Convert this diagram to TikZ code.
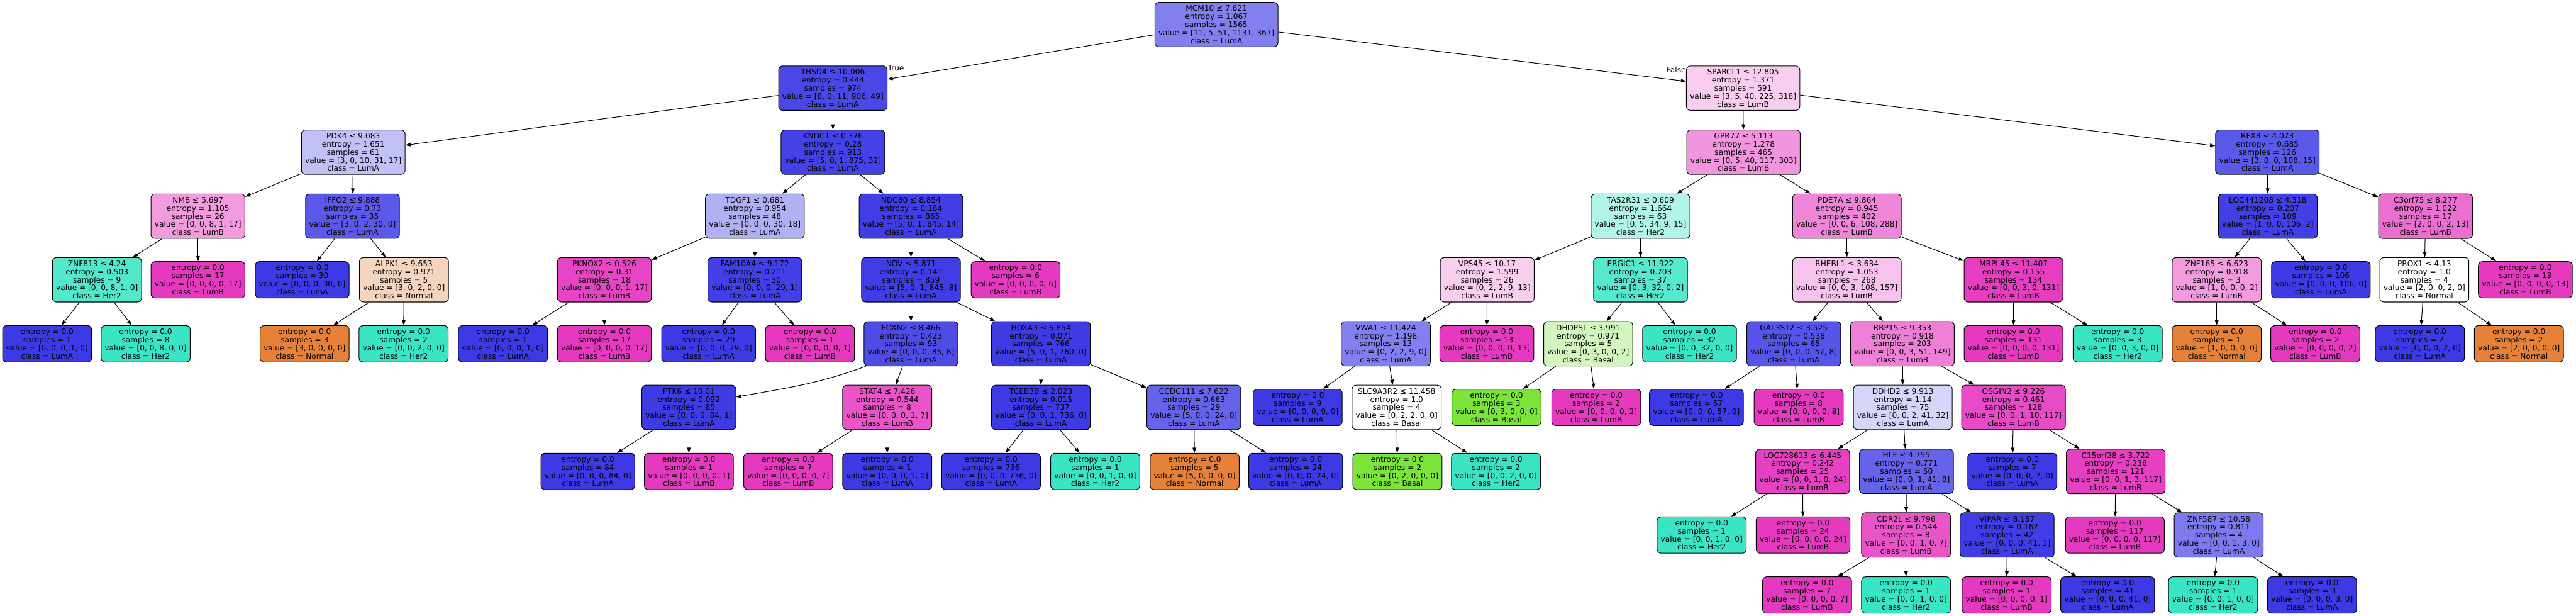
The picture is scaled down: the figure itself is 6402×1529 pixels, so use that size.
\documentclass[tikz,border=0pt]{standalone}
\usepackage{fontspec}
\setmainfont{DejaVu Sans}
\usepackage{tikz}
\usetikzlibrary{arrows.meta}

\definecolor{Normal}{HTML}{E58139}
\definecolor{Basal}{HTML}{7BE539}
\definecolor{Her2}{HTML}{39E5C5}
\definecolor{LumA}{HTML}{3C39E5}
\definecolor{LumB}{HTML}{E539C0}

\begin{document}
\begin{tikzpicture}[x=0.01cm, y=-0.01cm,
    tnode/.style={draw, line width=0.45pt, rounded corners=0.1cm, align=center,
      inner xsep=0.09cm, inner ysep=0.08cm, font=\fontsize{5.4pt}{5.69pt}\selectfont},
    edge/.style={line width=0.45pt, -{Triangle[length=0.13cm, width=0.09cm]}},
    lbl/.style={inner sep=0pt, font=\fontsize{5.4pt}{5.69pt}\selectfont}]
\useasboundingbox (0,0) rectangle (6402,1529);

% depth 0
\node[tnode, fill=LumA!64!white] (mcm) at (3023,61) {MCM10 ≤ 7.621\\entropy = 1.067\\samples = 1565\\value = [11, 5, 51, 1131, 367]\\class = LumA};

% depth 1
\node[tnode, fill=LumA!93!white] (thsd) at (2070,219) {THSD4 ≤ 10.006\\entropy = 0.444\\samples = 974\\value = [8, 0, 11, 906, 49]\\class = LumA};
\node[tnode, fill=LumB!25!white] (sparcl) at (4332,219) {SPARCL1 ≤ 12.805\\entropy = 1.371\\samples = 591\\value = [3, 5, 40, 225, 318]\\class = LumB};
\node[lbl, anchor=west] (ltrue) at ([yshift=-0.06cm]thsd.north east) {True};
\node[lbl, anchor=east] (lfalse) at ([yshift=-0.1cm]sparcl.north west) {False};

% depth 2
\node[tnode, fill=LumA!32!white] (pdk) at (878,378) {PDK4 ≤ 9.083\\entropy = 1.651\\samples = 61\\value = [3, 0, 10, 31, 17]\\class = LumA};
\node[tnode, fill=LumA!96!white] (kndc) at (2070,378) {KNDC1 ≤ 0.376\\entropy = 0.28\\samples = 913\\value = [5, 0, 1, 875, 32]\\class = LumA};
\node[tnode, fill=LumB!53!white] (gpr) at (4333,378) {GPR77 ≤ 5.113\\entropy = 1.278\\samples = 465\\value = [0, 5, 40, 117, 303]\\class = LumB};
\node[tnode, fill=LumA!84!white] (rfx) at (5635,378) {RFX8 ≤ 4.073\\entropy = 0.685\\samples = 126\\value = [3, 0, 0, 108, 15]\\class = LumA};

% depth 3
\node[tnode, fill=LumB!50!white] (nmb) at (492,537) {NMB ≤ 5.697\\entropy = 1.105\\samples = 26\\value = [0, 0, 8, 1, 17]\\class = LumB};
\node[tnode, fill=LumA!84!white] (iffo) at (876,537) {IFFO2 ≤ 9.888\\entropy = 0.73\\samples = 35\\value = [3, 0, 2, 30, 0]\\class = LumA};
\node[tnode, fill=LumA!40!white] (tdgf) at (1876,537) {TDGF1 ≤ 0.681\\entropy = 0.954\\samples = 48\\value = [0, 0, 0, 30, 18]\\class = LumA};
\node[tnode, fill=LumA!98!white] (ndc) at (2264,537) {NDC80 ≤ 8.854\\entropy = 0.184\\samples = 865\\value = [5, 0, 1, 845, 14]\\class = LumA};
\node[tnode, fill=Her2!40!white] (tas) at (4077,537) {TAS2R31 ≤ 0.609\\entropy = 1.664\\samples = 63\\value = [0, 5, 34, 9, 15]\\class = Her2};
\node[tnode, fill=LumB!61!white] (pde) at (4590,537) {PDE7A ≤ 9.864\\entropy = 0.945\\samples = 402\\value = [0, 0, 6, 108, 288]\\class = LumB};
\node[tnode, fill=LumA!97!white] (loca) at (5636,537) {LOC441208 ≤ 4.318\\entropy = 0.207\\samples = 109\\value = [1, 0, 0, 106, 2]\\class = LumA};
\node[tnode, fill=LumB!73!white] (c3orf) at (6028,537) {C3orf75 ≤ 8.277\\entropy = 1.022\\samples = 17\\value = [2, 0, 0, 2, 13]\\class = LumB};

% depth 4
\node[tnode, fill=Her2!88!white] (znfa) at (241,695) {ZNF813 ≤ 4.24\\entropy = 0.503\\samples = 9\\value = [0, 0, 8, 1, 0]\\class = Her2};
\node[tnode, fill=LumB] (lf01) at (492,695) {entropy = 0.0\\samples = 17\\value = [0, 0, 0, 0, 17]\\class = LumB};
\node[tnode, fill=LumA] (lf02) at (751,695) {entropy = 0.0\\samples = 30\\value = [0, 0, 0, 30, 0]\\class = LumA};
\node[tnode, fill=Normal!33!white] (alpk) at (1004,695) {ALPK1 ≤ 9.653\\entropy = 0.971\\samples = 5\\value = [3, 0, 2, 0, 0]\\class = Normal};
\node[tnode, fill=LumB!94!white] (pknox) at (1502,695) {PKNOX2 ≤ 0.526\\entropy = 0.31\\samples = 18\\value = [0, 0, 0, 1, 17]\\class = LumB};
\node[tnode, fill=LumA!97!white] (fam) at (1876,695) {FAM10A4 ≤ 9.172\\entropy = 0.211\\samples = 30\\value = [0, 0, 0, 29, 1]\\class = LumA};
\node[tnode, fill=LumA!98!white] (nov) at (2264,695) {NOV ≤ 5.871\\entropy = 0.141\\samples = 859\\value = [5, 0, 1, 845, 8]\\class = LumA};
\node[tnode, fill=LumB] (lf03) at (2524,695) {entropy = 0.0\\samples = 6\\value = [0, 0, 0, 0, 6]\\class = LumB};
\node[tnode, fill=LumB!24!white] (vps) at (3696,695) {VPS45 ≤ 10.17\\entropy = 1.599\\samples = 26\\value = [0, 2, 2, 9, 13]\\class = LumB};
\node[tnode, fill=Her2!85!white] (ergic) at (4077,695) {ERGIC1 ≤ 11.922\\entropy = 0.703\\samples = 37\\value = [0, 3, 32, 0, 2]\\class = Her2};
\node[tnode, fill=LumB!31!white] (rhebl) at (4590,695) {RHEBL1 ≤ 3.634\\entropy = 1.053\\samples = 268\\value = [0, 0, 3, 108, 157]\\class = LumB};
\node[tnode, fill=LumB!98!white] (mrpl) at (5004,695) {MRPL45 ≤ 11.407\\entropy = 0.155\\samples = 134\\value = [0, 0, 3, 0, 131]\\class = LumB};
\node[tnode, fill=LumB!50!white] (znfb) at (5509,695) {ZNF165 ≤ 6.623\\entropy = 0.918\\samples = 3\\value = [1, 0, 0, 0, 2]\\class = LumB};
\node[tnode, fill=LumA] (lf04) at (5768,695) {entropy = 0.0\\samples = 106\\value = [0, 0, 0, 106, 0]\\class = LumA};
\node[tnode, fill=white] (prox) at (6025,695) {PROX1 ≤ 4.13\\entropy = 1.0\\samples = 4\\value = [2, 0, 0, 2, 0]\\class = Normal};
\node[tnode, fill=LumB] (lf05) at (6276,695) {entropy = 0.0\\samples = 13\\value = [0, 0, 0, 0, 13]\\class = LumB};

% depth 5
\node[tnode, fill=LumA] (lf06) at (117,854) {entropy = 0.0\\samples = 1\\value = [0, 0, 0, 1, 0]\\class = LumA};
\node[tnode, fill=Her2] (lf07) at (362,854) {entropy = 0.0\\samples = 8\\value = [0, 0, 8, 0, 0]\\class = Her2};
\node[tnode, fill=Normal] (lf08) at (757,854) {entropy = 0.0\\samples = 3\\value = [3, 0, 0, 0, 0]\\class = Normal};
\node[tnode, fill=Her2] (lf09) at (1003,854) {entropy = 0.0\\samples = 2\\value = [0, 0, 2, 0, 0]\\class = Her2};
\node[tnode, fill=LumA] (lf10) at (1250,854) {entropy = 0.0\\samples = 1\\value = [0, 0, 0, 1, 0]\\class = LumA};
\node[tnode, fill=LumB] (lf11) at (1502,854) {entropy = 0.0\\samples = 17\\value = [0, 0, 0, 0, 17]\\class = LumB};
\node[tnode, fill=LumA] (lf12) at (1761,854) {entropy = 0.0\\samples = 29\\value = [0, 0, 0, 29, 0]\\class = LumA};
\node[tnode, fill=LumB] (lf13) at (2013,854) {entropy = 0.0\\samples = 1\\value = [0, 0, 0, 0, 1]\\class = LumB};
\node[tnode, fill=LumA!91!white] (foxn) at (2264,854) {FOXN2 ≤ 8.466\\entropy = 0.423\\samples = 93\\value = [0, 0, 0, 85, 8]\\class = LumA};
\node[tnode, fill=LumA!99!white] (hoxa) at (2587,854) {HOXA3 ≤ 6.854\\entropy = 0.071\\samples = 766\\value = [5, 0, 1, 760, 0]\\class = LumA};
\node[tnode, fill=LumA!64!white] (vwa) at (3444,854) {VWA1 ≤ 11.424\\entropy = 1.198\\samples = 13\\value = [0, 2, 2, 9, 0]\\class = LumA};
\node[tnode, fill=LumB] (lf14) at (3695,854) {entropy = 0.0\\samples = 13\\value = [0, 0, 0, 0, 13]\\class = LumB};
\node[tnode, fill=Basal!33!white] (dhdp) at (3947,854) {DHDPSL ≤ 3.991\\entropy = 0.971\\samples = 5\\value = [0, 3, 0, 0, 2]\\class = Basal};
\node[tnode, fill=Her2] (lf15) at (4199,854) {entropy = 0.0\\samples = 32\\value = [0, 0, 32, 0, 0]\\class = Her2};
\node[tnode, fill=LumA!86!white] (gal) at (4458,854) {GAL3ST2 ≤ 3.525\\entropy = 0.538\\samples = 65\\value = [0, 0, 0, 57, 8]\\class = LumA};
\node[tnode, fill=LumB!64!white] (rrp) at (4728,854) {RRP15 ≤ 9.353\\entropy = 0.918\\samples = 203\\value = [0, 0, 3, 51, 149]\\class = LumB};
\node[tnode, fill=LumB] (lf16) at (5004,854) {entropy = 0.0\\samples = 131\\value = [0, 0, 0, 0, 131]\\class = LumB};
\node[tnode, fill=Her2] (lf17) at (5263,854) {entropy = 0.0\\samples = 3\\value = [0, 0, 3, 0, 0]\\class = Her2};
\node[tnode, fill=Normal] (lf18) at (5509,854) {entropy = 0.0\\samples = 1\\value = [1, 0, 0, 0, 0]\\class = Normal};
\node[tnode, fill=LumB] (lf19) at (5754,854) {entropy = 0.0\\samples = 2\\value = [0, 0, 0, 0, 2]\\class = LumB};
\node[tnode, fill=LumA] (lf20) at (6014,854) {entropy = 0.0\\samples = 2\\value = [0, 0, 0, 2, 0]\\class = LumA};
\node[tnode, fill=Normal] (lf21) at (6260,854) {entropy = 0.0\\samples = 2\\value = [2, 0, 0, 0, 0]\\class = Normal};

% depth 6
\node[tnode, fill=LumA!99!white] (ptk) at (1712,1012) {PTK6 ≤ 10.01\\entropy = 0.092\\samples = 85\\value = [0, 0, 0, 84, 1]\\class = LumA};
\node[tnode, fill=LumB!86!white] (stat) at (2205,1012) {STAT4 ≤ 7.426\\entropy = 0.544\\samples = 8\\value = [0, 0, 0, 1, 7]\\class = LumB};
\node[tnode, fill=LumA] (tceb) at (2587,1012) {TCEB3B ≤ 2.023\\entropy = 0.015\\samples = 737\\value = [0, 0, 1, 736, 0]\\class = LumA};
\node[tnode, fill=LumA!79!white] (ccdc) at (2967,1012) {CCDC111 ≤ 7.622\\entropy = 0.663\\samples = 29\\value = [5, 0, 0, 24, 0]\\class = LumA};
\node[tnode, fill=LumA] (lf22) at (3225,1012) {entropy = 0.0\\samples = 9\\value = [0, 0, 0, 9, 0]\\class = LumA};
\node[tnode, fill=white] (slc) at (3471,1012) {SLC9A3R2 ≤ 11.458\\entropy = 1.0\\samples = 4\\value = [0, 2, 2, 0, 0]\\class = Basal};
\node[tnode, fill=Basal] (lf23) at (3719,1012) {entropy = 0.0\\samples = 3\\value = [0, 3, 0, 0, 0]\\class = Basal};
\node[tnode, fill=LumB] (lf24) at (3967,1012) {entropy = 0.0\\samples = 2\\value = [0, 0, 0, 0, 2]\\class = LumB};
\node[tnode, fill=LumA] (lf25) at (4216,1012) {entropy = 0.0\\samples = 57\\value = [0, 0, 0, 57, 0]\\class = LumA};
\node[tnode, fill=LumB] (lf26) at (4470,1012) {entropy = 0.0\\samples = 8\\value = [0, 0, 0, 0, 8]\\class = LumB};
\node[tnode, fill=LumA!21!white] (ddhd) at (4729,1012) {DDHD2 ≤ 9.913\\entropy = 1.14\\samples = 75\\value = [0, 0, 2, 41, 32]\\class = LumA};
\node[tnode, fill=LumB!91!white] (osgin) at (5004,1012) {OSGIN2 ≤ 9.226\\entropy = 0.461\\samples = 128\\value = [0, 0, 1, 10, 117]\\class = LumB};

% depth 7
\node[tnode, fill=LumA] (lf27) at (1461,1171) {entropy = 0.0\\samples = 84\\value = [0, 0, 0, 84, 0]\\class = LumA};
\node[tnode, fill=LumB] (lf28) at (1712,1171) {entropy = 0.0\\samples = 1\\value = [0, 0, 0, 0, 1]\\class = LumB};
\node[tnode, fill=LumB] (lf29) at (1959,1171) {entropy = 0.0\\samples = 7\\value = [0, 0, 0, 0, 7]\\class = LumB};
\node[tnode, fill=LumA] (lf30) at (2205,1171) {entropy = 0.0\\samples = 1\\value = [0, 0, 0, 1, 0]\\class = LumA};
\node[tnode, fill=LumA] (lf31) at (2463,1171) {entropy = 0.0\\samples = 736\\value = [0, 0, 0, 736, 0]\\class = LumA};
\node[tnode, fill=Her2] (lf32) at (2722,1171) {entropy = 0.0\\samples = 1\\value = [0, 0, 1, 0, 0]\\class = Her2};
\node[tnode, fill=Normal] (lf33) at (2969,1171) {entropy = 0.0\\samples = 5\\value = [5, 0, 0, 0, 0]\\class = Normal};
\node[tnode, fill=LumA] (lf34) at (3220,1171) {entropy = 0.0\\samples = 24\\value = [0, 0, 0, 24, 0]\\class = LumA};
\node[tnode, fill=Basal] (lf35) at (3473,1171) {entropy = 0.0\\samples = 2\\value = [0, 2, 0, 0, 0]\\class = Basal};
\node[tnode, fill=Her2] (lf36) at (3718,1171) {entropy = 0.0\\samples = 2\\value = [0, 0, 2, 0, 0]\\class = Her2};
\node[tnode, fill=LumB!96!white] (loc7) at (4480,1171) {LOC728613 ≤ 6.445\\entropy = 0.242\\samples = 25\\value = [0, 0, 1, 0, 24]\\class = LumB};
\node[tnode, fill=LumA!79!white] (hlf) at (4738,1171) {HLF ≤ 4.755\\entropy = 0.771\\samples = 50\\value = [0, 0, 1, 41, 8]\\class = LumA};
\node[tnode, fill=LumA] (lf37) at (5001,1171) {entropy = 0.0\\samples = 7\\value = [0, 0, 0, 7, 0]\\class = LumA};
\node[tnode, fill=LumB!97!white] (c15) at (5258,1171) {C15orf28 ≤ 3.722\\entropy = 0.236\\samples = 121\\value = [0, 0, 1, 3, 117]\\class = LumB};

% depth 8
\node[tnode, fill=Her2] (lf38) at (4229,1329) {entropy = 0.0\\samples = 1\\value = [0, 0, 1, 0, 0]\\class = Her2};
\node[tnode, fill=LumB] (lf39) at (4481,1329) {entropy = 0.0\\samples = 24\\value = [0, 0, 0, 0, 24]\\class = LumB};
\node[tnode, fill=LumB!86!white] (cdr) at (4737,1329) {CDR2L ≤ 9.796\\entropy = 0.544\\samples = 8\\value = [0, 0, 1, 0, 7]\\class = LumB};
\node[tnode, fill=LumA!98!white] (vipar) at (4988,1329) {VIPAR ≤ 8.187\\entropy = 0.162\\samples = 42\\value = [0, 0, 0, 41, 1]\\class = LumA};
\node[tnode, fill=LumB] (lf40) at (5256,1329) {entropy = 0.0\\samples = 117\\value = [0, 0, 0, 0, 117]\\class = LumB};
\node[tnode, fill=LumA!67!white] (znfc) at (5514,1329) {ZNF587 ≤ 10.58\\entropy = 0.811\\samples = 4\\value = [0, 0, 1, 3, 0]\\class = LumA};

% depth 9
\node[tnode, fill=LumB] (lf41) at (4491,1478) {entropy = 0.0\\samples = 7\\value = [0, 0, 0, 0, 7]\\class = LumB};
\node[tnode, fill=Her2] (lf42) at (4737,1478) {entropy = 0.0\\samples = 1\\value = [0, 0, 1, 0, 0]\\class = Her2};
\node[tnode, fill=LumB] (lf43) at (4987,1478) {entropy = 0.0\\samples = 1\\value = [0, 0, 0, 0, 1]\\class = LumB};
\node[tnode, fill=LumA] (lf44) at (5238,1478) {entropy = 0.0\\samples = 41\\value = [0, 0, 0, 41, 0]\\class = LumA};
\node[tnode, fill=Her2] (lf45) at (5500,1478) {entropy = 0.0\\samples = 1\\value = [0, 0, 1, 0, 0]\\class = Her2};
\node[tnode, fill=LumA] (lf46) at (5746,1478) {entropy = 0.0\\samples = 3\\value = [0, 0, 0, 3, 0]\\class = LumA};

% edges
\draw[edge] (mcm) -- (thsd);   \draw[edge] (mcm) -- (sparcl);
\draw[edge] (thsd) -- (pdk);   \draw[edge] (thsd) -- (kndc);
\draw[edge] (sparcl) -- (gpr); \draw[edge] (sparcl) -- (rfx);
\draw[edge] (pdk) -- (nmb);    \draw[edge] (pdk) -- (iffo);
\draw[edge] (kndc) -- (tdgf);  \draw[edge] (kndc) -- (ndc);
\draw[edge] (gpr) -- (tas);    \draw[edge] (gpr) -- (pde);
\draw[edge] (rfx) -- (loca);   \draw[edge] (rfx) -- (c3orf);
\draw[edge] (nmb) -- (znfa);   \draw[edge] (nmb) -- (lf01);
\draw[edge] (iffo) -- (lf02);  \draw[edge] (iffo) -- (alpk);
\draw[edge] (tdgf) -- (pknox); \draw[edge] (tdgf) -- (fam);
\draw[edge] (ndc) -- (nov);    \draw[edge] (ndc) -- (lf03);
\draw[edge] (tas) -- (vps);    \draw[edge] (tas) -- (ergic);
\draw[edge] (pde) -- (rhebl);  \draw[edge] (pde) -- (mrpl);
\draw[edge] (loca) -- (znfb);  \draw[edge] (loca) -- (lf04);
\draw[edge] (c3orf) -- (prox); \draw[edge] (c3orf) -- (lf05);
\draw[edge] (znfa) -- (lf06);  \draw[edge] (znfa) -- (lf07);
\draw[edge] (alpk) -- (lf08);  \draw[edge] (alpk) -- (lf09);
\draw[edge] (pknox) -- (lf10); \draw[edge] (pknox) -- (lf11);
\draw[edge] (fam) -- (lf12);   \draw[edge] (fam) -- (lf13);
\draw[edge] (nov) -- (foxn);   \draw[edge] (nov) -- (hoxa);
\draw[edge] (vps) -- (vwa);    \draw[edge] (vps) -- (lf14);
\draw[edge] (ergic) -- (dhdp); \draw[edge] (ergic) -- (lf15);
\draw[edge] (rhebl) -- (gal);  \draw[edge] (rhebl) -- (rrp);
\draw[edge] (mrpl) -- (lf16);  \draw[edge] (mrpl) -- (lf17);
\draw[edge] (znfb) -- (lf18);  \draw[edge] (znfb) -- (lf19);
\draw[edge] (prox) -- (lf20);  \draw[edge] (prox) -- (lf21);
\draw[edge] ([xshift=0.05cm]foxn.south west) to[out=200, in=10] ([yshift=-0.3cm]ptk.north east);
\draw[edge] (foxn) -- (stat);
\draw[edge] (hoxa) -- (tceb);  \draw[edge] (hoxa) -- (ccdc);
\draw[edge] (vwa) -- (lf22);   \draw[edge] (vwa) -- (slc);
\draw[edge] (dhdp) -- (lf23);  \draw[edge] (dhdp) -- (lf24);
\draw[edge] (gal) -- (lf25);   \draw[edge] (gal) -- (lf26);
\draw[edge] (rrp) -- (ddhd);   \draw[edge] (rrp) -- (osgin);
\draw[edge] (ptk) -- (lf27);   \draw[edge] (ptk) -- (lf28);
\draw[edge] (stat) -- (lf29);  \draw[edge] (stat) -- (lf30);
\draw[edge] (tceb) -- (lf31);  \draw[edge] (tceb) -- (lf32);
\draw[edge] (ccdc) -- (lf33);  \draw[edge] (ccdc) -- (lf34);
\draw[edge] (slc) -- (lf35);   \draw[edge] (slc) -- (lf36);
\draw[edge] (ddhd) -- (loc7);  \draw[edge] (ddhd) -- (hlf);
\draw[edge] (osgin) -- (lf37); \draw[edge] (osgin) -- (c15);
\draw[edge] (loc7) -- (lf38);  \draw[edge] (loc7) -- (lf39);
\draw[edge] (hlf) -- (cdr);    \draw[edge] (hlf) -- (vipar);
\draw[edge] (c15) -- (lf40);   \draw[edge] (c15) -- (znfc);
\draw[edge] (cdr) -- (lf41);   \draw[edge] (cdr) -- (lf42);
\draw[edge] (vipar) -- (lf43); \draw[edge] (vipar) -- (lf44);
\draw[edge] (znfc) -- (lf45);  \draw[edge] (znfc) -- (lf46);
\end{tikzpicture}
\end{document}
